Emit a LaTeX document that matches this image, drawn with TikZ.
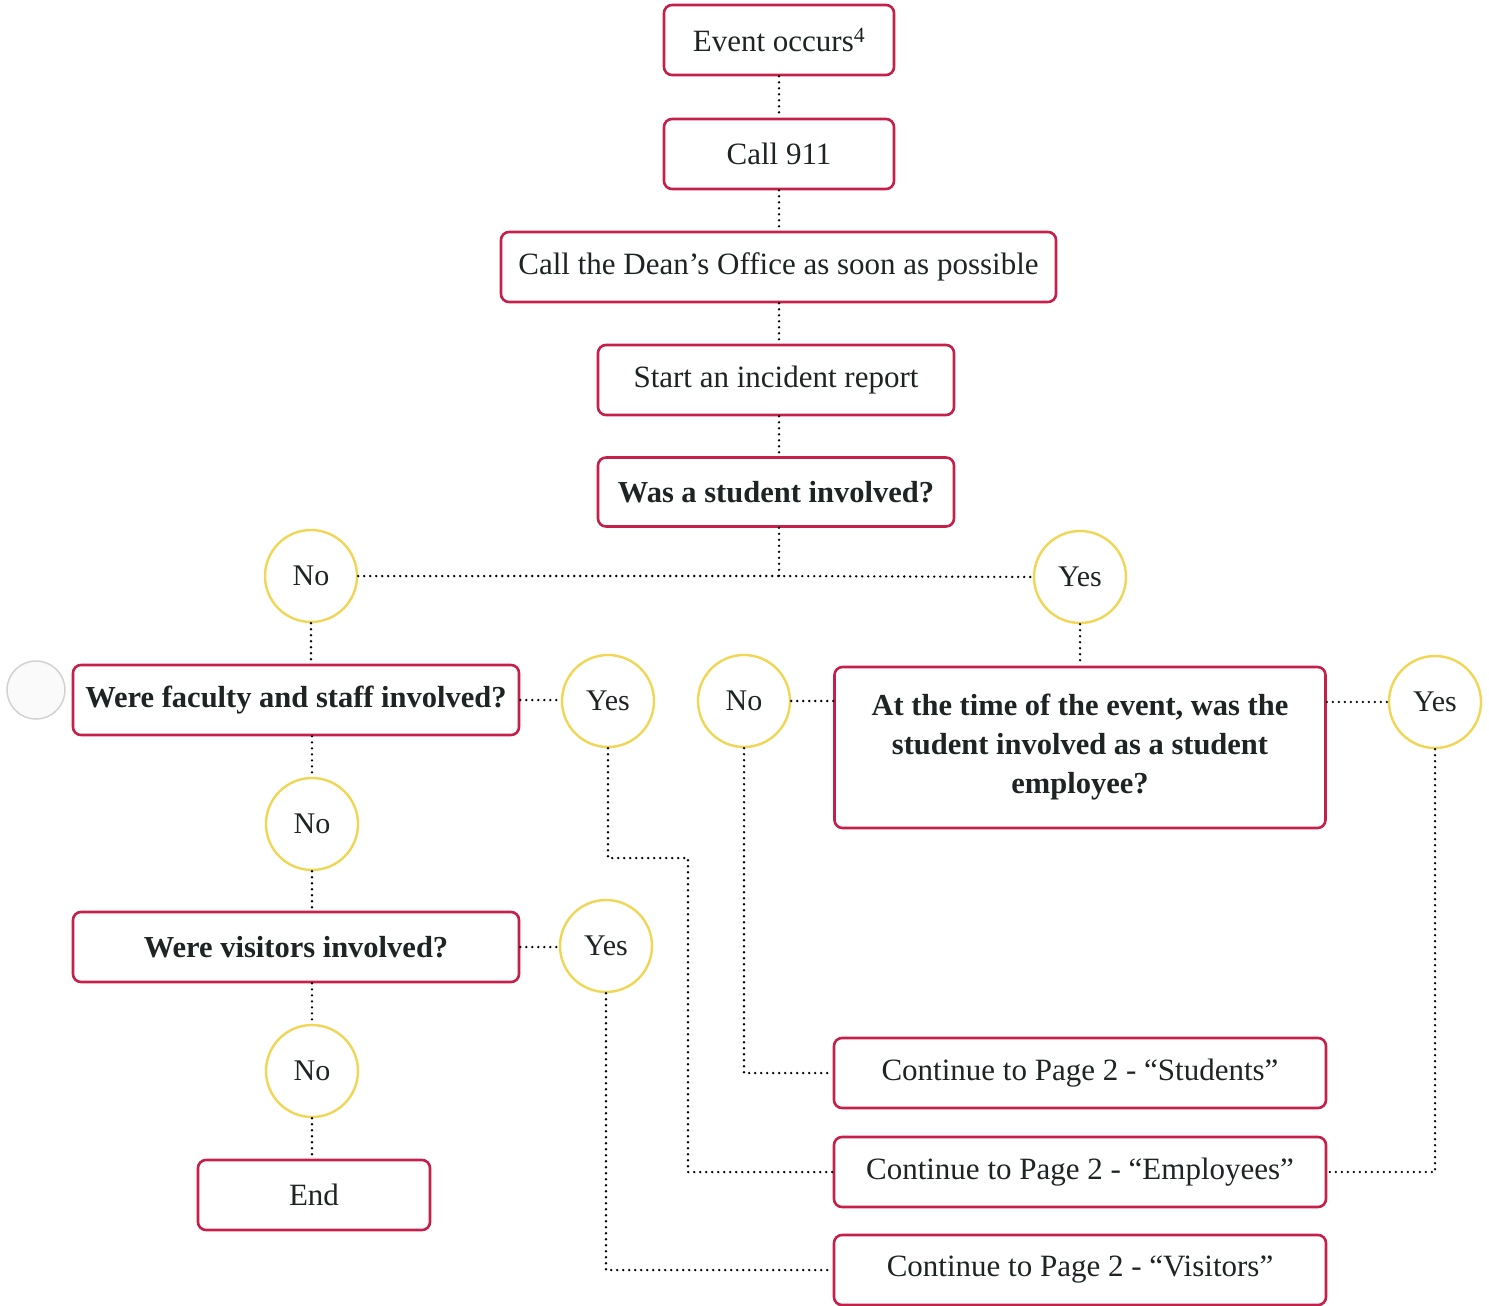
\documentclass[tikz,border=0pt]{standalone}
\usepackage{fontspec}
\setmainfont{Liberation Serif}
\definecolor{boxred}{RGB}{196,32,74}
\definecolor{circy}{RGB}{240,214,84}
\definecolor{txt}{RGB}{30,36,36}
\tikzset{
  box/.style={draw=boxred, line width=2.6pt, rounded corners=8pt, fill=white, text=txt, inner sep=0pt, align=center, font=\fontsize{31}{38}\selectfont},
  bbox/.style={box, font=\fontsize{30.5}{39}\selectfont\bfseries},
  ans/.style={circle, draw=circy, line width=2.4pt, minimum size=92pt, inner sep=0pt, text=txt, font=\fontsize{30}{36}\selectfont},
  dotline/.style={black, line width=2.6pt, line cap=round, dash pattern=on 0pt off 6pt},
}
\begin{document}
\begin{tikzpicture}[x=1pt,y=-1pt]
\useasboundingbox (0,0) rectangle (1489,1306);
% main chain
\node[box, minimum width=230pt, minimum height=70pt] (ev) at (779,40) {Event occurs\textsuperscript{4}};
\node[box, minimum width=230pt, minimum height=70pt] (c911) at (779,154) {Call 911};
\node[box, minimum width=555pt, minimum height=70pt] (dean) at (778.5,267) {Call the Dean’s Office as soon as possible};
\node[box, minimum width=356pt, minimum height=70pt] (rep) at (776,380) {Start an incident report};
\node[bbox, minimum width=356pt, minimum height=69pt] (ws) at (776,492) {Was a student involved?};
\coordinate (j) at (779,576);
% answer circles
\node[ans] (no1) at (311,576) {No};
\node[ans] (yes1) at (1080,577) {Yes};
% left branch
\node[circle, draw=gray!35, line width=1.5pt, fill=gray!4, minimum size=58pt] (gc) at (36,690) {};
\node[bbox, minimum width=446pt, minimum height=70pt] (fac) at (296,700) {Were faculty and staff involved?};
\node[ans] (yes2) at (608,701) {Yes};
\node[ans] (no2) at (312,824) {No};
\node[bbox, minimum width=446pt, minimum height=70pt] (vis) at (296,947) {Were visitors involved?};
\node[ans] (yes3) at (606,946) {Yes};
\node[ans] (no4) at (312,1071) {No};
\node[box, minimum width=232pt, minimum height=70pt] (end) at (314,1195) {End};
% right branch
\node[ans] (no3) at (744,701) {No};
\node[bbox, minimum width=491pt, minimum height=161pt] (se) at (1080,747.5) {At the time of the event, was the\\student involved as a student\\employee?};
\node[ans] (yes4) at (1435,702) {Yes};
% continue boxes
\node[box, minimum width=492pt, minimum height=70pt] (cs) at (1080,1073) {Continue to Page 2 - “Students”};
\node[box, minimum width=492pt, minimum height=70pt] (ce) at (1080,1172) {Continue to Page 2 - “Employees”};
\node[box, minimum width=492pt, minimum height=70pt] (cv) at (1080,1270) {Continue to Page 2 - “Visitors”};
\coordinate (b1) at (688,858);
% connectors
\draw[dotline] (ev.south) -- (c911.north);
\draw[dotline] (c911.south) -- (dean.north -| c911.south);
\draw[dotline] (dean.south -| c911.south) -- (rep.north -| c911.south);
\draw[dotline] (rep.south -| c911.south) -- (ws.north -| c911.south);
\draw[dotline] (ws.south -| j) -- (j);
\draw[dotline] (no1.east) -- (j) -- (yes1.west);
\draw[dotline] (no1.south) -- (fac.north -| no1.south);
\draw[dotline] (yes1.south) -- (se.north);
\draw[dotline] (fac.east) -- (fac.east -| yes2.west);
\draw[dotline] (fac.south -| no2) -- (no2.north);
\draw[dotline] (no2.south) -- (vis.north -| no2.south);
\draw[dotline] (vis.east) -- (vis.east -| yes3.west);
\draw[dotline] (vis.south -| no4) -- (no4.north);
\draw[dotline] (no4.south) -- (end.north -| no4.south);
\draw[dotline] (no3.east) -- (no3.east -| se.west);
\draw[dotline] (se.east |- yes4.west) -- (yes4.west);
\draw[dotline] (yes2.south) |- (b1) |- (ce.west);
\draw[dotline] (no3.south) |- (cs.west);
\draw[dotline] (yes4.south) |- (ce.east);
\draw[dotline] (yes3.south) |- (cv.west);
\end{tikzpicture}
\end{document}
